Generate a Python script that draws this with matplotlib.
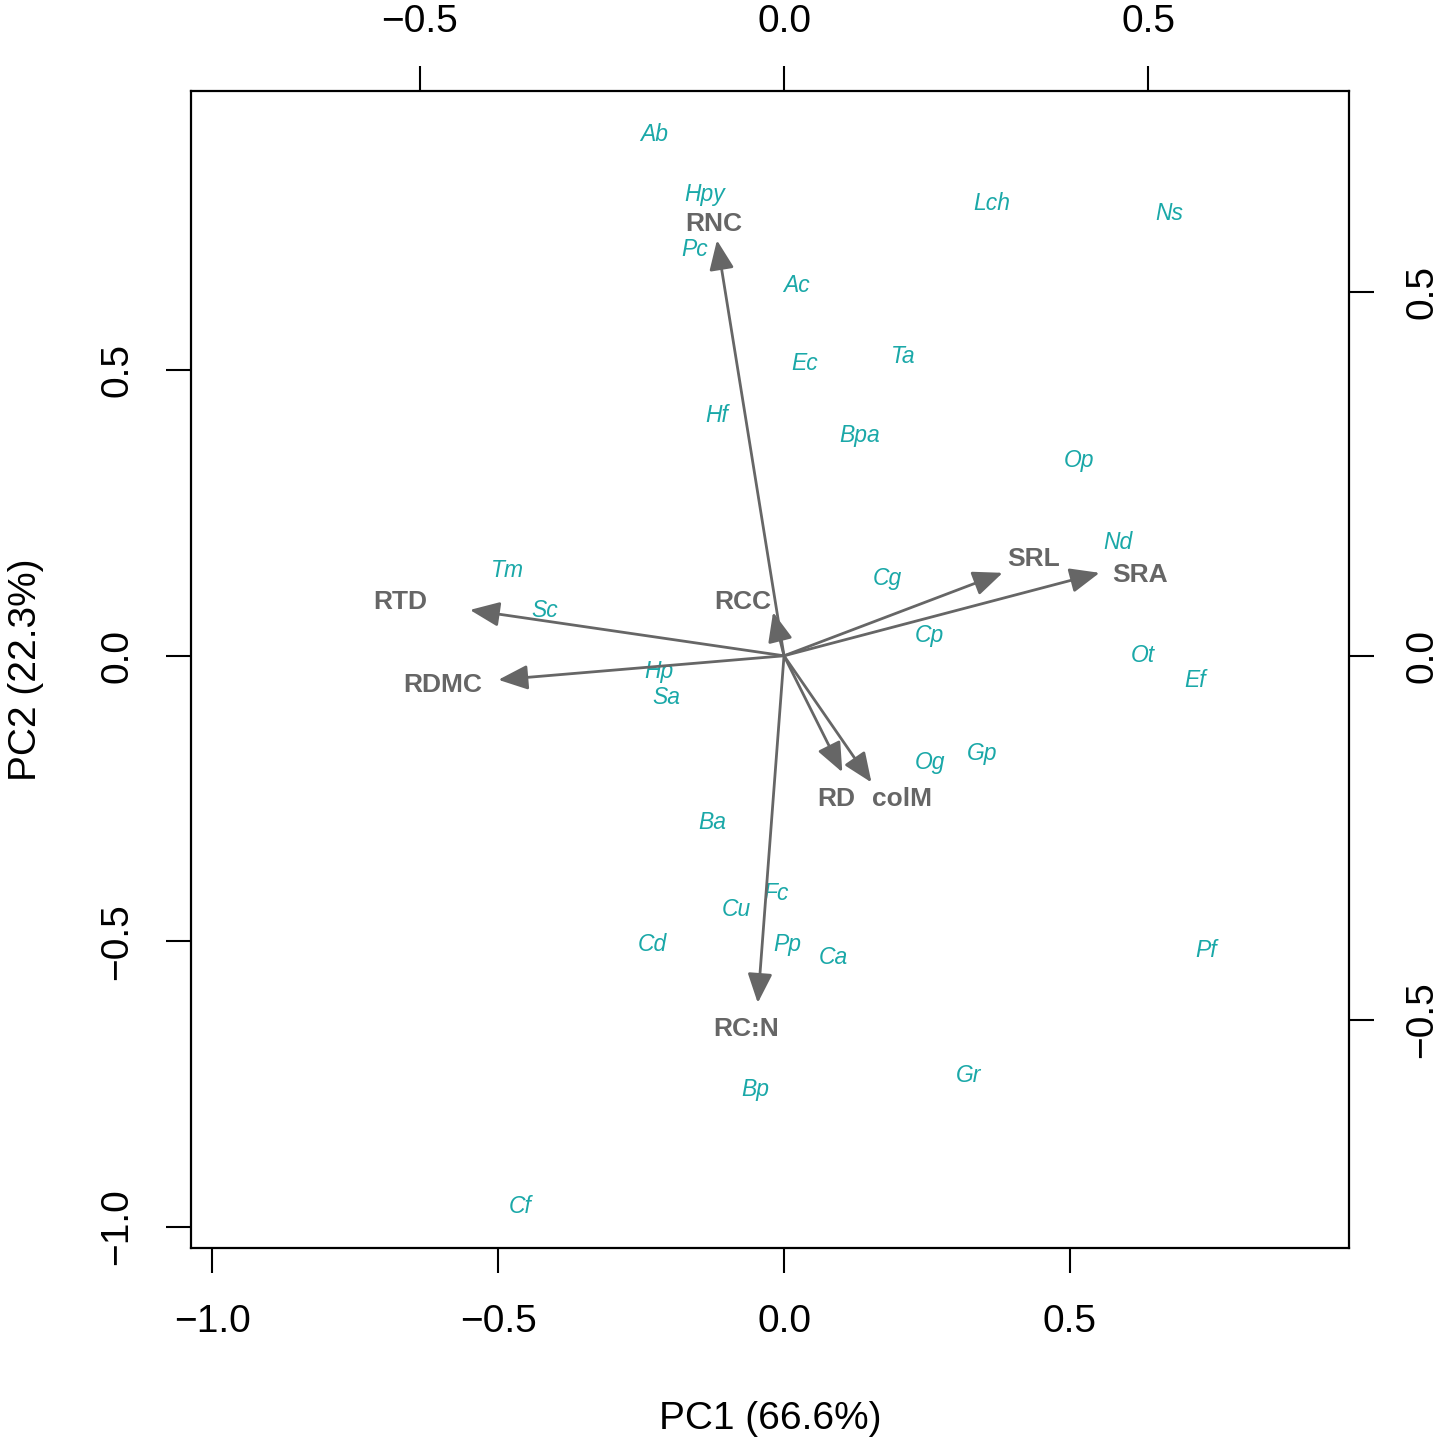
import matplotlib
matplotlib.use("Agg")
import matplotlib.pyplot as plt

plt.rcParams['font.family'] = ['Liberation Sans', 'DejaVu Sans']

# Species scores (PC1, PC2) on the bottom/left scale
species = ["Ab", "Hpy", "Pc", "Lch", "Ns", "Ac", "Ec", "Ta", "Hf", "Bpa", "Op", "Nd",
           "Tm", "Sc", "Cg", "Cp", "Ot", "Ef", "Hp", "Sa", "Og", "Gp", "Ba", "Fc",
           "Cu", "Cd", "Pp", "Ca", "Pf", "Gr", "Bp", "Cf"]
sp_pc1 = [-0.227, -0.138, -0.157, 0.364, 0.673, 0.021, 0.037, 0.208, -0.117, 0.133, 0.516, 0.584,
          -0.483, -0.418, 0.180, 0.255, 0.628, 0.719, -0.219, -0.205, 0.255, 0.346, -0.126, -0.014,
          -0.084, -0.231, 0.005, 0.086, 0.738, 0.322, -0.051, -0.462]
sp_pc2 = [0.918, 0.813, 0.715, 0.797, 0.779, 0.653, 0.517, 0.529, 0.426, 0.391, 0.347, 0.203,
          0.154, 0.084, 0.140, 0.040, 0.005, -0.039, -0.023, -0.068, -0.182, -0.166, -0.287, -0.412,
          -0.440, -0.501, -0.501, -0.524, -0.511, -0.730, -0.755, -0.960]

# Trait loadings (arrow tips) on the top/right scale
traits = ["RNC", "RTD", "RDMC", "RCC", "SRL", "SRA", "RD", "colM", "RC:N"]
ld_pc1 = [-0.092, -0.431, -0.392, -0.015, 0.300, 0.433, 0.080, 0.120, -0.036]
ld_pc2 = [0.571, 0.063, -0.033, 0.060, 0.114, 0.114, -0.160, -0.174, -0.477]
# Trait label positions (top/right scale)
lab_pc1 = [-0.096, -0.527, -0.468, -0.056, 0.343, 0.488, 0.071, 0.162, -0.052]
lab_pc2 = [0.597, 0.077, -0.037, 0.078, 0.136, 0.115, -0.193, -0.193, -0.510]

ticks_main = [-1.0, -0.5, 0.0, 0.5]
ticks_load = [-0.5, 0.0, 0.5]

teal = "#1AA8A8"
grey = "#666666"

fig = plt.figure(figsize=(14.4, 14.48), dpi=100)
pos = [191/1440, (1448-1248)/1448, (1349-191)/1440, (1248-91)/1448]
ax = fig.add_axes(pos)
xlim = (-1.037, 0.988)
ylim = (-1.037, 0.989)
ax.set_xlim(*xlim)
ax.set_ylim(*ylim)
k = 729/572
ax2 = fig.add_axes(pos, facecolor='none')
ax2.set_xlim(xlim[0]/k, xlim[1]/k)
ax2.set_ylim(ylim[0]/k, ylim[1]/k)

for s in ax.spines.values():
    s.set_linewidth(1.6)
for s in ax2.spines.values():
    s.set_visible(False)

ax.set_xticks(ticks_main)
ax.set_yticks(ticks_main)
ax.set_xticklabels(["\u22121.0", "\u22120.5", "0.0", "0.5"])
ax.set_yticklabels(["\u22121.0", "\u22120.5", "0.0", "0.5"], rotation=90, va='center')
ax.tick_params(length=18, width=1.5, labelsize=28, pad=22)

ax2.xaxis.tick_top()
ax2.yaxis.tick_right()
ax2.set_xticks(ticks_load)
ax2.set_yticks(ticks_load)
ax2.set_xticklabels(["\u22120.5", "0.0", "0.5"])
ax2.set_yticklabels(["\u22120.5", "0.0", "0.5"], rotation=90, va='center')
ax2.tick_params(length=18, width=1.5, labelsize=28, pad=22)
ax2.tick_params(axis='x', pad=19)

ax.set_xlabel("PC1 (66.6%)", fontsize=28, labelpad=44)
ax.set_ylabel("PC2 (22.3%)", fontsize=28, labelpad=40)

for name, x, y in zip(species, sp_pc1, sp_pc2):
    ax.text(x, y, name, color=teal, fontsize=16.5, style='italic', ha='center', va='center_baseline')

for x, y in zip(ld_pc1, ld_pc2):
    ax2.annotate('', xy=(x, y), xytext=(0, 0),
                 arrowprops=dict(arrowstyle='-|>,head_length=1.0,head_width=0.42',
                                 mutation_scale=18, lw=2.0, color=grey,
                                 shrinkA=0, shrinkB=0))
for name, x, y in zip(traits, lab_pc1, lab_pc2):
    ax2.text(x, y, name, color=grey, fontsize=19, fontweight='bold', ha='center', va='center_baseline')

fig.savefig("out.png", dpi=100)
